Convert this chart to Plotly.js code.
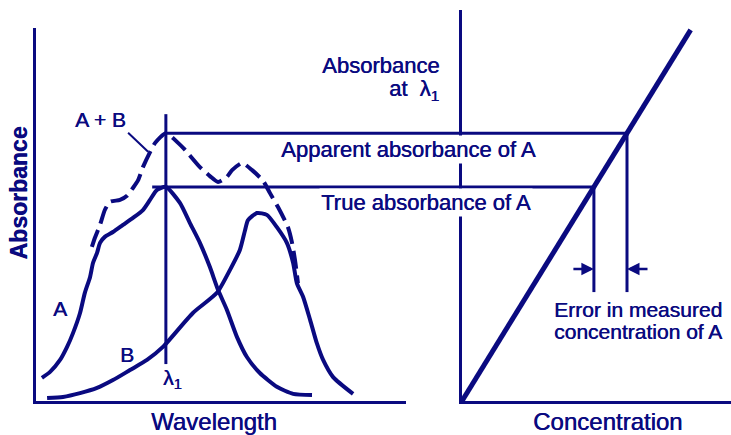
<!DOCTYPE html>
<html>
<head>
<meta charset="utf-8">
<script src="https://cdn.plot.ly/plotly-3.0.1.min.js"></script>
<style>
  html, body { margin: 0; padding: 0; background: #fff; }
  #chart { width: 731px; height: 435px; }
</style>
</head>
<body>
<div id="chart"></div>
<script>
const navy = '#0a0a80';

// spectrum of A alone (wavelength in arbitrary units, absorbance)
const aX = [1.6, 3.8, 6.5, 8.4, 10.0, 11.9, 13.2, 14.6, 15.4, 16.5, 17.3, 18.6, 20.8, 23.5, 26.2, 28.9, 30.8, 32.7,
	35.1, 38.9, 41.6, 44.3, 47.0, 49.2, 51.6, 54.3, 57.0, 60.5, 65.1, 69.5, 74.6];
const aY = [0.062, 0.078, 0.110, 0.145, 0.182, 0.236, 0.290, 0.332, 0.370, 0.397, 0.424, 0.440, 0.453, 0.472, 0.491, 0.512, 0.539, 0.566,
	0.574, 0.531, 0.477, 0.424, 0.359, 0.298, 0.244, 0.172, 0.118, 0.075, 0.038, 0.019, 0.016];

// spectrum of B alone
const bX = [3.0, 7.3, 11.9, 16.5, 20.8, 25.4, 30.0, 34.3, 42.4, 48.9, 52.4, 55.1, 56.5, 57.3, 59.7, 62.4, 65.1, 67.8,
	69.5, 70.5, 72.2, 74.1, 75.9, 77.6, 80.3, 85.7];
const bY = [0.008, 0.011, 0.021, 0.035, 0.056, 0.083, 0.110, 0.145, 0.236, 0.290, 0.351, 0.405, 0.458, 0.485, 0.504, 0.499, 0.466, 0.424,
	0.370, 0.316, 0.279, 0.217, 0.155, 0.110, 0.064, 0.019];

// measured spectrum of the mixture A + B
const abX = [15.1, 15.9, 17.3, 18.6, 20.0, 22.7, 24.6, 26.2, 27.6, 28.9, 32.2, 35.1, 38.4, 40.3, 44.3, 47.0, 49.2, 51.6,
	53.0, 55.7, 58.4, 61.4, 63.2, 65.4, 68.1, 69.2, 70.0, 70.8];
const abY = [0.413, 0.437, 0.472, 0.512, 0.534, 0.539, 0.550, 0.571, 0.592, 0.627, 0.692, 0.718, 0.692, 0.673, 0.627, 0.603, 0.587, 0.601,
	0.619, 0.638, 0.619, 0.590, 0.558, 0.520, 0.466, 0.424, 0.378, 0.316];

// analysis wavelength and the span of its marker line
const lambda1 = 35.1;
const lambdaSpan = [0.099, 0.769];
const trueLineStart = 31.4;

// calibration line of A at lambda1 (concentration, absorbance)
const calC = [0, 1.02];
const calA = [0, 0.995];
const dropTo = 0.292;
const arrowLevel = 0.354;

const trueAbs = Math.max(...aY);
const appAbs = Math.max(...abY);
const slope = calA[1] / calC[1];
const cTrue = trueAbs / slope;
const cApp = appAbs / slope;

const xLeft = {domain: [36 / 731, 406 / 731], range: [0, 100]};
const xRight = {domain: [462 / 731, 1], range: [0, 1.2]};

function paperX(ax, v) {
	return ax.domain[0] + (v - ax.range[0]) / (ax.range[1] - ax.range[0]) * (ax.domain[1] - ax.domain[0]);
}

const fam = 'Arial, "Liberation Sans", sans-serif';
// a faint same-colour shadow thickens the strokes a little, like the heavy bitmap type of the original
const f = (size) => ({family: fam, size: size, color: navy, shadow: '0.5px 0 0 ' + navy});

const curve = (x, y, width, dash) => ({
	x: x, y: y, type: 'scatter', mode: 'lines', xaxis: 'x', yaxis: 'y', hoverinfo: 'skip',
	line: {color: navy, width: width, shape: 'spline', smoothing: 0.6, dash: dash || 'solid'},
});

const traces = [
	curve(aX, aY, 4),
	curve(bX, bY, 4),
	curve(abX, abY, 4, '18px,7px'),
	{x: [lambda1, lambda1], y: lambdaSpan, type: 'scatter', mode: 'lines', xaxis: 'x', yaxis: 'y', hoverinfo: 'skip',
		line: {color: navy, width: 3}},
	{x: calC, y: calA, type: 'scatter', mode: 'lines', xaxis: 'x2', yaxis: 'y2', hoverinfo: 'skip',
		line: {color: navy, width: 5}},
	{x: [cTrue, cTrue], y: [trueAbs, dropTo], type: 'scatter', mode: 'lines', xaxis: 'x2', yaxis: 'y2', hoverinfo: 'skip',
		line: {color: navy, width: 3}},
	{x: [cApp, cApp], y: [appAbs, dropTo], type: 'scatter', mode: 'lines', xaxis: 'x2', yaxis: 'y2', hoverinfo: 'skip',
		line: {color: navy, width: 3}},
];

const axisBase = {showgrid: false, zeroline: false, showticklabels: false, ticks: '',
	showline: true, linecolor: navy, linewidth: 3, fixedrange: true};

// plain text label, centred on its point unless told otherwise
const label = (text, xref, yref, x, y, size, extra) => Object.assign({
	text: text, xref: xref, yref: yref, x: x, y: y, showarrow: false,
	xanchor: 'center', yanchor: 'middle', font: f(size),
}, extra || {});

const layout = {
	width: 731, height: 435,
	margin: {l: 0, r: 0, t: 0, b: 0},
	paper_bgcolor: '#fff', plot_bgcolor: '#fff',
	showlegend: false,
	xaxis: Object.assign({}, axisBase, xLeft, {anchor: 'y'}),
	yaxis: Object.assign({}, axisBase, {domain: [34 / 435, 407 / 435], range: [0, 1], anchor: 'x'}),
	xaxis2: Object.assign({}, axisBase, xRight, {anchor: 'y2'}),
	yaxis2: Object.assign({}, axisBase, {domain: [34 / 435, 425 / 435], range: [0, 391 / 373], anchor: 'x2'}),
	shapes: [
		{type: 'line', xref: 'paper', yref: 'y', x0: paperX(xLeft, lambda1), x1: paperX(xRight, cApp), y0: appAbs, y1: appAbs,
			line: {color: navy, width: 3}},
		{type: 'line', xref: 'paper', yref: 'y', x0: paperX(xLeft, trueLineStart), x1: paperX(xRight, cTrue), y0: trueAbs, y1: trueAbs,
			line: {color: navy, width: 3}},
	],
	annotations: [
		{text: 'A + B', xref: 'x', yref: 'y', x: 30.3, y: 0.668, ax: -20, ay: -19, showarrow: true, arrowhead: 0,
			arrowwidth: 2, arrowcolor: navy, xanchor: 'right', yanchor: 'bottom', font: f(21)},
		label('A', 'x', 'y', 6.5, 0.248, 21),
		label('B', 'x', 'y', 24.5, 0.125, 21),
		label('λ<sub>1</sub>', 'x', 'y', 37.0, 0.058, 21),
		label('Apparent absorbance of A', 'paper', 'y', 408.5 / 731, 0.675, 22, {bgcolor: '#fff'}),
		label('True absorbance of A', 'paper', 'y', 426 / 731, 0.533, 22, {bgcolor: '#fff'}),
		label('Absorbance', 'paper', 'paper', 441 / 731, (435 - 66) / 435, 22, {xanchor: 'right'}),
		label('at  λ<sub>1</sub>', 'paper', 'paper', 441 / 731, (435 - 90) / 435, 22, {xanchor: 'right'}),
		label('Error in measured', 'paper', 'paper', 552 / 731, (435 - 309) / 435, 21, {xanchor: 'left'}),
		label('concentration of A', 'paper', 'paper', 552 / 731, (435 - 331) / 435, 21, {xanchor: 'left'}),
		label('Wavelength', 'paper', 'paper', 213.5 / 731, (435 - 421.5) / 435, 24),
		label('Concentration', 'paper', 'paper', 607 / 731, (435 - 421.5) / 435, 24),
		label('<b>Absorbance</b>', 'paper', 'paper', 18 / 731, (435 - 193.5) / 435, 23, {textangle: -90}),
		{text: '', xref: 'x2', yref: 'y2', x: cTrue, y: arrowLevel, ax: -22, ay: 0, showarrow: true, arrowhead: 2,
			arrowsize: 1, arrowwidth: 2.5, arrowcolor: navy},
		{text: '', xref: 'x2', yref: 'y2', x: cApp, y: arrowLevel, ax: 22, ay: 0, showarrow: true, arrowhead: 2,
			arrowsize: 1, arrowwidth: 2.5, arrowcolor: navy},
	],
};

Plotly.newPlot('chart', traces, layout, {displayModeBar: false, staticPlot: true});
</script>
</body>
</html>
